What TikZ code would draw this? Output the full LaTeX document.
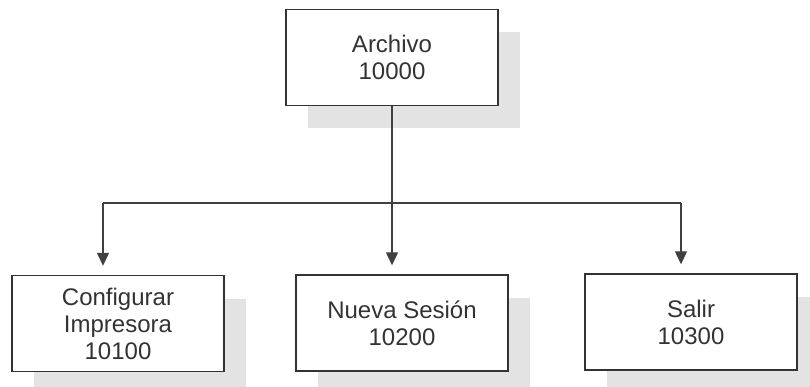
\documentclass[tikz,border=0pt]{standalone}
\usepackage{fontspec}
\setmainfont{Liberation Sans}
\usetikzlibrary{arrows.meta,shadows}
\begin{document}
\begin{tikzpicture}[x=1pt,y=-1pt,
  box/.style={draw=black!80, line width=1.4pt, fill=white,
    minimum width=212pt, minimum height=96pt, inner sep=0pt,
    align=center, text=black!80, font=\fontsize{24}{27}\selectfont,
    drop shadow={shadow xshift=22pt, shadow yshift=-23pt,
      fill=black!11, opacity=1, draw=none}},
  link/.style={draw=black!75, line width=1.2pt},
  arrowlink/.style={link, -{Triangle[width=12pt,length=13pt]}, shorten >=9pt}]
  \clip (0,0) rectangle (810,387);
  \fill[white] (0,0) rectangle (810,387);

  % menu boxes
  \node[box] (archivo) at (392,57.5) {Archivo\\10000};
  \node[box] (config) at (118,323.5) {Configurar\\Impresora\\10100};
  \node[box] (sesion) at (402,323) {Nueva Sesión\\10200};
  \node[box] (salir) at (691,322) {Salir\\10300};

  % branch points of the tree
  \coordinate (split) at (392,203);
  \coordinate (left) at (103,203);
  \coordinate (right) at (681,203);

  \draw[link] (archivo.south) -- (split);
  \draw[link] (left) -- (right);
  \draw[arrowlink] (left) -- (left |- config.north);
  \draw[arrowlink] (split) -- (split |- sesion.north);
  \draw[arrowlink] (right) -- (right |- salir.north);
\end{tikzpicture}
\end{document}
